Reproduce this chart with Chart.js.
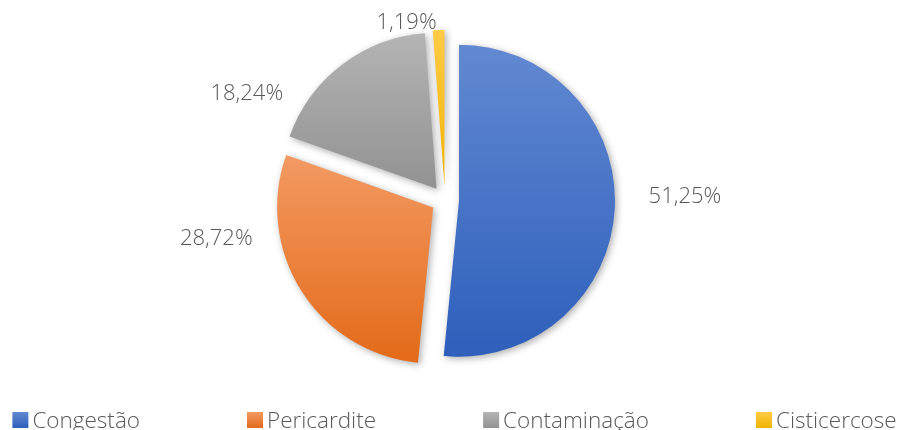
<!DOCTYPE html>
<html>
<head>
<meta charset="utf-8">
<script src="https://cdn.jsdelivr.net/npm/chart.js@4/dist/chart.umd.min.js"></script>
<style>
  html, body { margin: 0; padding: 0; background: #ffffff; }
  #wrap { width: 903px; height: 430px; position: relative; }
</style>
</head>
<body>
<div id="wrap"><canvas id="c"></canvas></div>
<script>
// ---- data ----
const categories = ['Congestão', 'Pericardite', 'Contaminação', 'Cisticercose'];
const percentages = [51.25, 28.72, 18.24, 1.19];

// ---- styles ----
const topColors = ['#6289D2', '#F39A63', '#B4B4B4', '#FFCB45'];
const bottomColors = ['#2D5FBB', '#E36A18', '#929292', '#F0B400'];
const FONT = '"Open Sans", "Noto Sans", sans-serif';
const TEXT_COLOR = '#595959';
const EXPLODE = 14;
const RADIUS = 156;
// label placement relative to pie centre: angle tweak from slice mid-angle (deg) and distance (px)
const labelAngleAdjust = [-3.7, 22.7, -24.4, -10.1];
const labelDistance = [240, 232, 225, 181];

const fmt = v => v.toFixed(2).replace('.', ',') + '%';

function sliceAngles(i) {
  const total = percentages.reduce((a, b) => a + b, 0);
  let cum = 0;
  for (let k = 0; k < i; k++) cum += percentages[k];
  const a0 = -Math.PI / 2 + 2 * Math.PI * cum / total;
  const a1 = a0 + 2 * Math.PI * percentages[i] / total;
  return [a0, a1];
}

function gradientFor(ctx) {
  const chart = ctx.chart;
  const area = chart.chartArea;
  const i = ctx.dataIndex;
  if (!area) return topColors[i];
  const cx = (area.left + area.right) / 2;
  const cy = (area.top + area.bottom) / 2;
  const [a0, a1] = sliceAngles(i);
  const mid = (a0 + a1) / 2;
  const dy = Math.sin(mid) * EXPLODE;
  const ys = [cy, cy + RADIUS * Math.sin(a0), cy + RADIUS * Math.sin(a1)];
  const inRange = a => {
    for (let k = -2; k <= 2; k++) {
      const t = a + k * 2 * Math.PI;
      if (t >= a0 && t <= a1) return true;
    }
    return false;
  };
  if (inRange(Math.PI / 2)) ys.push(cy + RADIUS);
  if (inRange(-Math.PI / 2)) ys.push(cy - RADIUS);
  const y0 = Math.min(...ys) + dy, y1 = Math.max(...ys) + dy;
  const g = chart.ctx.createLinearGradient(0, y0, 0, y1);
  g.addColorStop(0, topColors[i]);
  g.addColorStop(1, bottomColors[i]);
  return g;
}

const explodePlugin = {
  id: 'explode',
  afterDatasetUpdate(chart, args) {
    args.meta.data.forEach(arc => {
      const mid = (arc.startAngle + arc.endAngle) / 2;
      arc.x += Math.cos(mid) * EXPLODE;
      arc.y += Math.sin(mid) * EXPLODE;
    });
  },
  beforeDatasetDraw(chart) {
    const c = chart.ctx;
    c.save();
    c.shadowColor = 'rgba(0,0,0,0.32)';
    c.shadowBlur = 7;
    c.shadowOffsetX = 2;
    c.shadowOffsetY = 2;
  },
  afterDatasetDraw(chart) {
    chart.ctx.restore();
  }
};

const labelPlugin = {
  id: 'outLabels',
  afterDatasetsDraw(chart) {
    const c = chart.ctx;
    const area = chart.chartArea;
    const cx = (area.left + area.right) / 2;
    const cy = (area.top + area.bottom) / 2;
    const meta = chart.getDatasetMeta(0);
    c.save();
    c.font = '300 22px ' + FONT;
    c.fillStyle = TEXT_COLOR;
    c.textAlign = 'center';
    c.textBaseline = 'middle';
    meta.data.forEach((arc, i) => {
      const mid = (arc.startAngle + arc.endAngle) / 2 + labelAngleAdjust[i] * Math.PI / 180;
      const x = cx + Math.cos(mid) * labelDistance[i];
      const y = cy + Math.sin(mid) * labelDistance[i];
      c.fillText(fmt(percentages[i]), x, y);
    });
    c.restore();
  }
};

const legendPlugin = {
  id: 'bottomLegend',
  afterDraw(chart) {
    const c = chart.ctx;
    const box = 16, gap = 4, pad = 107, baseline = 428, shift = 3;
    c.save();
    c.font = '300 22.5px ' + FONT;
    const widths = categories.map(t => box + gap + c.measureText(t).width);
    const total = widths.reduce((a, b) => a + b, 0) + pad * (categories.length - 1);
    let x = (chart.width - total) / 2 + shift;
    categories.forEach((t, i) => {
      const g = c.createLinearGradient(0, baseline - box, 0, baseline);
      g.addColorStop(0, topColors[i]);
      g.addColorStop(1, bottomColors[i]);
      c.fillStyle = g;
      c.fillRect(x, baseline - box, box, box);
      c.fillStyle = TEXT_COLOR;
      c.textAlign = 'left';
      c.textBaseline = 'alphabetic';
      c.fillText(t, x + box + gap, baseline);
      x += widths[i] + pad;
    });
    c.restore();
  }
};

new Chart(document.getElementById('c'), {
  type: 'pie',
  data: {
    labels: categories,
    datasets: [{
      data: percentages,
      backgroundColor: gradientFor,
      borderWidth: 0,
      radius: RADIUS
    }]
  },
  options: {
    responsive: true,
    maintainAspectRatio: false,
    animation: false,
    events: [],
    layout: { padding: { left: 0, right: 13, top: 10, bottom: 40 } },
    plugins: {
      legend: { display: false },
      tooltip: { enabled: false },
      title: { display: false }
    }
  },
  plugins: [explodePlugin, labelPlugin, legendPlugin]
});
</script>
</body>
</html>
